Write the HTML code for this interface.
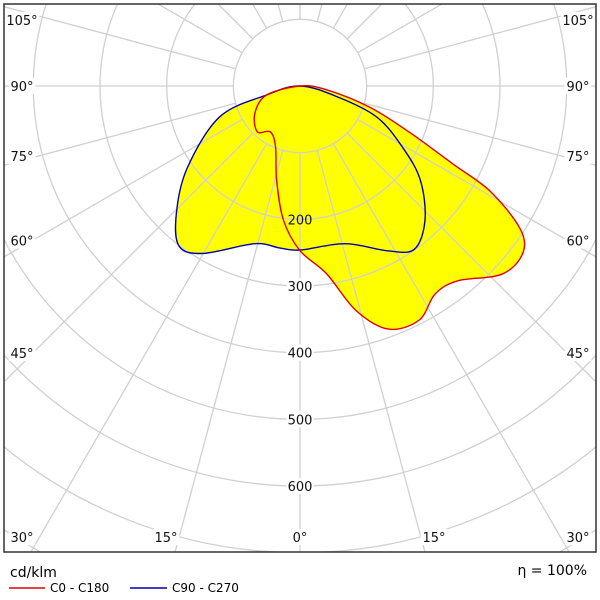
<!DOCTYPE html>
<html><head><meta charset="utf-8"><style>
html,body{margin:0;padding:0;background:#fff;width:600px;height:600px;overflow:hidden}
svg{display:block;overflow:hidden;font-family:"DejaVu Sans","Liberation Sans",sans-serif}
</style></head><body>
<svg id="chart" width="600" height="600" viewBox="0 0 600 600" xmlns="http://www.w3.org/2000/svg">
<defs><clipPath id="clip"><rect x="4" y="4" width="592" height="548"/></clipPath></defs>
<rect x="0" y="0" width="600" height="600" fill="#fff"/>
<g id="fills" clip-path="url(#clip)"></g>
<g id="grid" clip-path="url(#clip)"></g>
<g id="curves" clip-path="url(#clip)"></g>
<g id="labels"></g>
<rect x="4" y="4" width="592" height="548" fill="none" stroke="#333" stroke-width="1.5"/>
<text x="10" y="577" font-size="14">cd/klm</text>
<line x1="9" y1="588" x2="45" y2="588" stroke="#e00000" stroke-width="1.5"/>
<text x="50" y="592" font-size="12">C0 - C180</text>
<line x1="130" y1="588" x2="167" y2="588" stroke="#0000b0" stroke-width="1.5"/>
<text x="172" y="592" font-size="12">C90 - C270</text>
<text x="587" y="575" font-size="14" text-anchor="end">η = 100%</text>
</svg>
<script>
// data: [gamma angle deg, cd/klm]
const c0 = [[0,247],[8,284],[14,347],[20,388],[27,394],[33,372],[39,376],[47,414],[53,418],[57,394],[61,327],[63,257],[67,179],[73,110],[82,40],[90,0]];
const c180 = [[0,247],[7,203],[14,145],[22,98],[33,82],[43,94],[59,79],[75,52],[90,0]];
const c90 = [[0,246],[16,246],[28,280],[35,299],[43,275],[52,229],[59,180],[68,124],[74,57],[90,0]];
const c270 = [[0,246],[7,245],[16,246],[30,290],[37,301],[44,267],[54,209],[69,129],[75,52],[90,0]];
const ringValues = [100,200,300,400,500,600,700,800,900];
const ringLabels = [200,300,400,500,600];
const sideAngles = [45,60,75,90,105];
const bottomAngles = [30,15,0];

const CX=300, CY=86, K=0.6667;
const NS="http://www.w3.org/2000/svg";
function rad(v){return v*K;}
function pt(g,v,side){const a=g*Math.PI/180;return [CX+side*Math.sin(a)*rad(v), CY+Math.cos(a)*rad(v)];}
function mk(tag,attrs,parent){const e=document.createElementNS(NS,tag);for(const k in attrs)e.setAttribute(k,attrs[k]);parent.appendChild(e);return e;}
function curvePts(right,left){
  const p=[];
  for(let i=left.length-1;i>=0;i--)p.push(pt(left[i][0],left[i][1],-1));
  for(let i=1;i<right.length-1;i++)p.push(pt(right[i][0],right[i][1],1));
  return p;
}
function closedSpline(p){
  const n=p.length;let d="M"+p[0][0].toFixed(1)+","+p[0][1].toFixed(1);
  for(let i=0;i<n;i++){
    const p0=p[(i-1+n)%n],p1=p[i],p2=p[(i+1)%n],p3=p[(i+2)%n];
    const c1=[p1[0]+(p2[0]-p0[0])/6,p1[1]+(p2[1]-p0[1])/6];
    const c2=[p2[0]-(p3[0]-p1[0])/6,p2[1]-(p3[1]-p1[1])/6];
    d+="C"+c1[0].toFixed(1)+","+c1[1].toFixed(1)+" "+c2[0].toFixed(1)+","+c2[1].toFixed(1)+" "+p2[0].toFixed(1)+","+p2[1].toFixed(1);
  }
  return d+"Z";
}
const fills=document.getElementById('fills'),grid=document.getElementById('grid'),curves=document.getElementById('curves'),labels=document.getElementById('labels');
const dRed=closedSpline(curvePts(c0,c180)), dBlue=closedSpline(curvePts(c90,c270));
let f=mk('path',{d:dRed,fill:'#ffff00'},fills);


f=mk('path',{d:dBlue,fill:'#ffff00'},fills);


ringValues.forEach(v=>{
  const c=mk('circle',{cx:CX,cy:CY,r:rad(v),fill:'none',stroke:'#d0d0d0','stroke-width':1.3},grid);
  
  
});
for(let g=0;g<360;g+=15){
  const a=g*Math.PI/180,r0=rad(100),r1=700;
  const l=mk('line',{x1:CX+Math.sin(a)*r0,y1:CY+Math.cos(a)*r0,x2:CX+Math.sin(a)*r1,y2:CY+Math.cos(a)*r1,stroke:'#d0d0d0','stroke-width':1.3},grid);
  
  
}
let s=mk('path',{d:dBlue,fill:'none',stroke:'#0000b0','stroke-width':1.4},curves);


s=mk('path',{d:dRed,fill:'none',stroke:'#e00000','stroke-width':1.4},curves);


function label(x,y,txt,bg,name){
  const w=txt.length*7.6+4;
  if(bg){const r=mk('rect',{x:x-w/2,y:y-8,width:w,height:16,fill:bg},labels);
    
    }
  const t=mk('text',{x:x,y:y+5,'font-size':13,'text-anchor':'middle',fill:'#111'},labels);
  t.textContent=txt;
  
  
}
ringLabels.forEach(v=>{label(CX,CY+rad(v),String(v),v<=200?null:'#fff','ring-label-'+v);});
sideAngles.forEach(g=>{
  const a=g*Math.PI/180;const dx=278;const y=CY+dx/Math.tan(a)-(g===45?11:(g===60?6:0));
  const yy=g===105?20:(g===75?156:y);
  label(22,yy,g+'°','#fff','angle-label-left-'+g);
  label(578,yy,g+'°','#fff','angle-label-right-'+g);
});
bottomAngles.forEach(g=>{
  const xx=g===30?278:(g===15?134:0);
  label(CX-xx,537,g+'°','#fff','angle-label-bottom-left-'+g);
  if(g>0)label(CX+xx,537,g+'°','#fff','angle-label-bottom-right-'+g);
});
</script>
</body></html>
